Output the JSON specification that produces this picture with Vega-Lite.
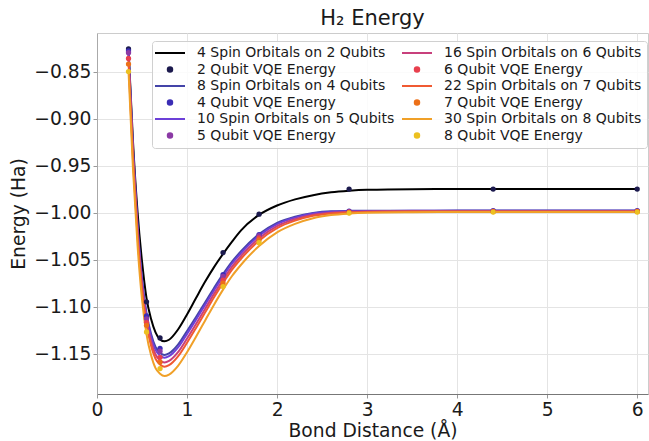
{
 "$schema": "https://vega.github.io/schema/vega-lite/v6.json",
 "width": 551, "height": 361,
 "autosize": {"type": "none"},
 "padding": {"left": 97, "top": 33, "right": 1, "bottom": 47},
 "background": "white",
 "title": {"text": "H₂ Energy", "font": "DejaVu Sans", "fontSize": 21, "fontWeight": "normal", "color": "#1a1a1a", "offset": 4, "anchor": "middle", "frame": "group"},
 "config": {
  "view": {"stroke": "#cccccc", "strokeWidth": 1},
  "axis": {"labelFont": "DejaVu Sans", "labelFontSize": 18.7, "labelColor": "#1a1a1a", "titleFont": "DejaVu Sans", "titleFontSize": 18.7, "titleFontWeight": "normal", "titleColor": "#1a1a1a", "gridColor": "#e4e4e4", "gridWidth": 1, "domainColor": "#999999", "tickColor": "#999999", "tickSize": 4, "labelPadding": 2, "labelFlush": false}
 },
 "datasets": {
  "lines": [
   {"series": "4 Spin Orbitals on 2 Qubits", "x": 0.35, "E": -0.826},
   {"series": "4 Spin Orbitals on 2 Qubits", "x": 0.4, "E": -0.925},
   {"series": "4 Spin Orbitals on 2 Qubits", "x": 0.45, "E": -0.999},
   {"series": "4 Spin Orbitals on 2 Qubits", "x": 0.5, "E": -1.052},
   {"series": "4 Spin Orbitals on 2 Qubits", "x": 0.55, "E": -1.091},
   {"series": "4 Spin Orbitals on 2 Qubits", "x": 0.6, "E": -1.113},
   {"series": "4 Spin Orbitals on 2 Qubits", "x": 0.65, "E": -1.1274},
   {"series": "4 Spin Orbitals on 2 Qubits", "x": 0.7, "E": -1.1349},
   {"series": "4 Spin Orbitals on 2 Qubits", "x": 0.75, "E": -1.137},
   {"series": "4 Spin Orbitals on 2 Qubits", "x": 0.8, "E": -1.1353},
   {"series": "4 Spin Orbitals on 2 Qubits", "x": 0.9, "E": -1.1244},
   {"series": "4 Spin Orbitals on 2 Qubits", "x": 1.0, "E": -1.1084},
   {"series": "4 Spin Orbitals on 2 Qubits", "x": 1.1, "E": -1.0909},
   {"series": "4 Spin Orbitals on 2 Qubits", "x": 1.2, "E": -1.0737},
   {"series": "4 Spin Orbitals on 2 Qubits", "x": 1.3, "E": -1.058},
   {"series": "4 Spin Orbitals on 2 Qubits", "x": 1.4, "E": -1.044},
   {"series": "4 Spin Orbitals on 2 Qubits", "x": 1.5, "E": -1.031},
   {"series": "4 Spin Orbitals on 2 Qubits", "x": 1.6, "E": -1.019},
   {"series": "4 Spin Orbitals on 2 Qubits", "x": 1.8, "E": -1.0025},
   {"series": "4 Spin Orbitals on 2 Qubits", "x": 2.0, "E": -0.9925},
   {"series": "4 Spin Orbitals on 2 Qubits", "x": 2.2, "E": -0.986},
   {"series": "4 Spin Orbitals on 2 Qubits", "x": 2.4, "E": -0.9815},
   {"series": "4 Spin Orbitals on 2 Qubits", "x": 2.6, "E": -0.9785},
   {"series": "4 Spin Orbitals on 2 Qubits", "x": 2.8, "E": -0.9768},
   {"series": "4 Spin Orbitals on 2 Qubits", "x": 3.0, "E": -0.9758},
   {"series": "4 Spin Orbitals on 2 Qubits", "x": 3.5, "E": -0.9751},
   {"series": "4 Spin Orbitals on 2 Qubits", "x": 4.0, "E": -0.975},
   {"series": "4 Spin Orbitals on 2 Qubits", "x": 5.0, "E": -0.975},
   {"series": "4 Spin Orbitals on 2 Qubits", "x": 6.0, "E": -0.975},

   {"series": "8 Spin Orbitals on 4 Qubits", "x": 0.35, "E": -0.827},
   {"series": "8 Spin Orbitals on 4 Qubits", "x": 0.4, "E": -0.932},
   {"series": "8 Spin Orbitals on 4 Qubits", "x": 0.45, "E": -1.012},
   {"series": "8 Spin Orbitals on 4 Qubits", "x": 0.5, "E": -1.070},
   {"series": "8 Spin Orbitals on 4 Qubits", "x": 0.55, "E": -1.107},
   {"series": "8 Spin Orbitals on 4 Qubits", "x": 0.6, "E": -1.129},
   {"series": "8 Spin Orbitals on 4 Qubits", "x": 0.65, "E": -1.143},
   {"series": "8 Spin Orbitals on 4 Qubits", "x": 0.7, "E": -1.149},
   {"series": "8 Spin Orbitals on 4 Qubits", "x": 0.75, "E": -1.1514},
   {"series": "8 Spin Orbitals on 4 Qubits", "x": 0.8, "E": -1.1498},
   {"series": "8 Spin Orbitals on 4 Qubits", "x": 0.9, "E": -1.1405},
   {"series": "8 Spin Orbitals on 4 Qubits", "x": 1.0, "E": -1.126},
   {"series": "8 Spin Orbitals on 4 Qubits", "x": 1.1, "E": -1.1111},
   {"series": "8 Spin Orbitals on 4 Qubits", "x": 1.2, "E": -1.0956},
   {"series": "8 Spin Orbitals on 4 Qubits", "x": 1.3, "E": -1.0802},
   {"series": "8 Spin Orbitals on 4 Qubits", "x": 1.4, "E": -1.0655},
   {"series": "8 Spin Orbitals on 4 Qubits", "x": 1.5, "E": -1.0522},
   {"series": "8 Spin Orbitals on 4 Qubits", "x": 1.6, "E": -1.0411},
   {"series": "8 Spin Orbitals on 4 Qubits", "x": 1.8, "E": -1.0229},
   {"series": "8 Spin Orbitals on 4 Qubits", "x": 2.0, "E": -1.0109},
   {"series": "8 Spin Orbitals on 4 Qubits", "x": 2.2, "E": -1.0043},
   {"series": "8 Spin Orbitals on 4 Qubits", "x": 2.4, "E": -1.0004},
   {"series": "8 Spin Orbitals on 4 Qubits", "x": 2.6, "E": -0.9986},
   {"series": "8 Spin Orbitals on 4 Qubits", "x": 2.8, "E": -0.9982},
   {"series": "8 Spin Orbitals on 4 Qubits", "x": 3.0, "E": -0.998},
   {"series": "8 Spin Orbitals on 4 Qubits", "x": 3.5, "E": -0.998},
   {"series": "8 Spin Orbitals on 4 Qubits", "x": 4.0, "E": -0.9979},
   {"series": "8 Spin Orbitals on 4 Qubits", "x": 5.0, "E": -0.9979},
   {"series": "8 Spin Orbitals on 4 Qubits", "x": 6.0, "E": -0.9979},

   {"series": "10 Spin Orbitals on 5 Qubits", "x": 0.35, "E": -0.830},
   {"series": "10 Spin Orbitals on 5 Qubits", "x": 0.4, "E": -0.935},
   {"series": "10 Spin Orbitals on 5 Qubits", "x": 0.45, "E": -1.015},
   {"series": "10 Spin Orbitals on 5 Qubits", "x": 0.5, "E": -1.073},
   {"series": "10 Spin Orbitals on 5 Qubits", "x": 0.55, "E": -1.110},
   {"series": "10 Spin Orbitals on 5 Qubits", "x": 0.6, "E": -1.132},
   {"series": "10 Spin Orbitals on 5 Qubits", "x": 0.65, "E": -1.146},
   {"series": "10 Spin Orbitals on 5 Qubits", "x": 0.7, "E": -1.152},
   {"series": "10 Spin Orbitals on 5 Qubits", "x": 0.75, "E": -1.1544},
   {"series": "10 Spin Orbitals on 5 Qubits", "x": 0.8, "E": -1.1528},
   {"series": "10 Spin Orbitals on 5 Qubits", "x": 0.9, "E": -1.1435},
   {"series": "10 Spin Orbitals on 5 Qubits", "x": 1.0, "E": -1.129},
   {"series": "10 Spin Orbitals on 5 Qubits", "x": 1.1, "E": -1.1139},
   {"series": "10 Spin Orbitals on 5 Qubits", "x": 1.2, "E": -1.0982},
   {"series": "10 Spin Orbitals on 5 Qubits", "x": 1.3, "E": -1.0826},
   {"series": "10 Spin Orbitals on 5 Qubits", "x": 1.4, "E": -1.068},
   {"series": "10 Spin Orbitals on 5 Qubits", "x": 1.5, "E": -1.0542},
   {"series": "10 Spin Orbitals on 5 Qubits", "x": 1.6, "E": -1.043},
   {"series": "10 Spin Orbitals on 5 Qubits", "x": 1.8, "E": -1.0246},
   {"series": "10 Spin Orbitals on 5 Qubits", "x": 2.0, "E": -1.0122},
   {"series": "10 Spin Orbitals on 5 Qubits", "x": 2.2, "E": -1.0054},
   {"series": "10 Spin Orbitals on 5 Qubits", "x": 2.4, "E": -1.0011},
   {"series": "10 Spin Orbitals on 5 Qubits", "x": 2.6, "E": -0.9992},
   {"series": "10 Spin Orbitals on 5 Qubits", "x": 2.8, "E": -0.9986},
   {"series": "10 Spin Orbitals on 5 Qubits", "x": 3.0, "E": -0.9983},
   {"series": "10 Spin Orbitals on 5 Qubits", "x": 3.5, "E": -0.9982},
   {"series": "10 Spin Orbitals on 5 Qubits", "x": 4.0, "E": -0.9981},
   {"series": "10 Spin Orbitals on 5 Qubits", "x": 5.0, "E": -0.9981},
   {"series": "10 Spin Orbitals on 5 Qubits", "x": 6.0, "E": -0.9981},

   {"series": "16 Spin Orbitals on 6 Qubits", "x": 0.35, "E": -0.835},
   {"series": "16 Spin Orbitals on 6 Qubits", "x": 0.4, "E": -0.940},
   {"series": "16 Spin Orbitals on 6 Qubits", "x": 0.45, "E": -1.020},
   {"series": "16 Spin Orbitals on 6 Qubits", "x": 0.5, "E": -1.078},
   {"series": "16 Spin Orbitals on 6 Qubits", "x": 0.55, "E": -1.115},
   {"series": "16 Spin Orbitals on 6 Qubits", "x": 0.6, "E": -1.137},
   {"series": "16 Spin Orbitals on 6 Qubits", "x": 0.65, "E": -1.151},
   {"series": "16 Spin Orbitals on 6 Qubits", "x": 0.7, "E": -1.157},
   {"series": "16 Spin Orbitals on 6 Qubits", "x": 0.75, "E": -1.1594},
   {"series": "16 Spin Orbitals on 6 Qubits", "x": 0.8, "E": -1.1578},
   {"series": "16 Spin Orbitals on 6 Qubits", "x": 0.9, "E": -1.1485},
   {"series": "16 Spin Orbitals on 6 Qubits", "x": 1.0, "E": -1.134},
   {"series": "16 Spin Orbitals on 6 Qubits", "x": 1.1, "E": -1.1185},
   {"series": "16 Spin Orbitals on 6 Qubits", "x": 1.2, "E": -1.1025},
   {"series": "16 Spin Orbitals on 6 Qubits", "x": 1.3, "E": -1.0865},
   {"series": "16 Spin Orbitals on 6 Qubits", "x": 1.4, "E": -1.0716},
   {"series": "16 Spin Orbitals on 6 Qubits", "x": 1.5, "E": -1.0576},
   {"series": "16 Spin Orbitals on 6 Qubits", "x": 1.6, "E": -1.0462},
   {"series": "16 Spin Orbitals on 6 Qubits", "x": 1.8, "E": -1.0274},
   {"series": "16 Spin Orbitals on 6 Qubits", "x": 2.0, "E": -1.0145},
   {"series": "16 Spin Orbitals on 6 Qubits", "x": 2.2, "E": -1.0071},
   {"series": "16 Spin Orbitals on 6 Qubits", "x": 2.4, "E": -1.0024},
   {"series": "16 Spin Orbitals on 6 Qubits", "x": 2.6, "E": -1.0001},
   {"series": "16 Spin Orbitals on 6 Qubits", "x": 2.8, "E": -0.9992},
   {"series": "16 Spin Orbitals on 6 Qubits", "x": 3.0, "E": -0.9988},
   {"series": "16 Spin Orbitals on 6 Qubits", "x": 3.5, "E": -0.9986},
   {"series": "16 Spin Orbitals on 6 Qubits", "x": 4.0, "E": -0.9985},
   {"series": "16 Spin Orbitals on 6 Qubits", "x": 5.0, "E": -0.9985},
   {"series": "16 Spin Orbitals on 6 Qubits", "x": 6.0, "E": -0.9985},

   {"series": "22 Spin Orbitals on 7 Qubits", "x": 0.35, "E": -0.8395},
   {"series": "22 Spin Orbitals on 7 Qubits", "x": 0.4, "E": -0.9445},
   {"series": "22 Spin Orbitals on 7 Qubits", "x": 0.45, "E": -1.0245},
   {"series": "22 Spin Orbitals on 7 Qubits", "x": 0.5, "E": -1.0825},
   {"series": "22 Spin Orbitals on 7 Qubits", "x": 0.55, "E": -1.1195},
   {"series": "22 Spin Orbitals on 7 Qubits", "x": 0.6, "E": -1.1415},
   {"series": "22 Spin Orbitals on 7 Qubits", "x": 0.65, "E": -1.1555},
   {"series": "22 Spin Orbitals on 7 Qubits", "x": 0.7, "E": -1.1615},
   {"series": "22 Spin Orbitals on 7 Qubits", "x": 0.75, "E": -1.1639},
   {"series": "22 Spin Orbitals on 7 Qubits", "x": 0.8, "E": -1.1623},
   {"series": "22 Spin Orbitals on 7 Qubits", "x": 0.9, "E": -1.153},
   {"series": "22 Spin Orbitals on 7 Qubits", "x": 1.0, "E": -1.1385},
   {"series": "22 Spin Orbitals on 7 Qubits", "x": 1.1, "E": -1.1227},
   {"series": "22 Spin Orbitals on 7 Qubits", "x": 1.2, "E": -1.1064},
   {"series": "22 Spin Orbitals on 7 Qubits", "x": 1.3, "E": -1.0901},
   {"series": "22 Spin Orbitals on 7 Qubits", "x": 1.4, "E": -1.0748},
   {"series": "22 Spin Orbitals on 7 Qubits", "x": 1.5, "E": -1.0607},
   {"series": "22 Spin Orbitals on 7 Qubits", "x": 1.6, "E": -1.0491},
   {"series": "22 Spin Orbitals on 7 Qubits", "x": 1.8, "E": -1.0299},
   {"series": "22 Spin Orbitals on 7 Qubits", "x": 2.0, "E": -1.0165},
   {"series": "22 Spin Orbitals on 7 Qubits", "x": 2.2, "E": -1.0086},
   {"series": "22 Spin Orbitals on 7 Qubits", "x": 2.4, "E": -1.0035},
   {"series": "22 Spin Orbitals on 7 Qubits", "x": 2.6, "E": -1.0009},
   {"series": "22 Spin Orbitals on 7 Qubits", "x": 2.8, "E": -0.9998},
   {"series": "22 Spin Orbitals on 7 Qubits", "x": 3.0, "E": -0.9993},
   {"series": "22 Spin Orbitals on 7 Qubits", "x": 3.5, "E": -0.9989},
   {"series": "22 Spin Orbitals on 7 Qubits", "x": 4.0, "E": -0.9988},
   {"series": "22 Spin Orbitals on 7 Qubits", "x": 5.0, "E": -0.9988},
   {"series": "22 Spin Orbitals on 7 Qubits", "x": 6.0, "E": -0.9988},

   {"series": "30 Spin Orbitals on 8 Qubits", "x": 0.35, "E": -0.8495},
   {"series": "30 Spin Orbitals on 8 Qubits", "x": 0.4, "E": -0.9545},
   {"series": "30 Spin Orbitals on 8 Qubits", "x": 0.45, "E": -1.0345},
   {"series": "30 Spin Orbitals on 8 Qubits", "x": 0.5, "E": -1.0925},
   {"series": "30 Spin Orbitals on 8 Qubits", "x": 0.55, "E": -1.1295},
   {"series": "30 Spin Orbitals on 8 Qubits", "x": 0.6, "E": -1.1515},
   {"series": "30 Spin Orbitals on 8 Qubits", "x": 0.65, "E": -1.1655},
   {"series": "30 Spin Orbitals on 8 Qubits", "x": 0.7, "E": -1.1715},
   {"series": "30 Spin Orbitals on 8 Qubits", "x": 0.75, "E": -1.1739},
   {"series": "30 Spin Orbitals on 8 Qubits", "x": 0.8, "E": -1.1723},
   {"series": "30 Spin Orbitals on 8 Qubits", "x": 0.9, "E": -1.163},
   {"series": "30 Spin Orbitals on 8 Qubits", "x": 1.0, "E": -1.1485},
   {"series": "30 Spin Orbitals on 8 Qubits", "x": 1.1, "E": -1.132},
   {"series": "30 Spin Orbitals on 8 Qubits", "x": 1.2, "E": -1.115},
   {"series": "30 Spin Orbitals on 8 Qubits", "x": 1.3, "E": -1.098},
   {"series": "30 Spin Orbitals on 8 Qubits", "x": 1.4, "E": -1.082},
   {"series": "30 Spin Orbitals on 8 Qubits", "x": 1.5, "E": -1.0675},
   {"series": "30 Spin Orbitals on 8 Qubits", "x": 1.6, "E": -1.0555},
   {"series": "30 Spin Orbitals on 8 Qubits", "x": 1.8, "E": -1.0355},
   {"series": "30 Spin Orbitals on 8 Qubits", "x": 2.0, "E": -1.021},
   {"series": "30 Spin Orbitals on 8 Qubits", "x": 2.2, "E": -1.012},
   {"series": "30 Spin Orbitals on 8 Qubits", "x": 2.4, "E": -1.006},
   {"series": "30 Spin Orbitals on 8 Qubits", "x": 2.6, "E": -1.0027},
   {"series": "30 Spin Orbitals on 8 Qubits", "x": 2.8, "E": -1.0011},
   {"series": "30 Spin Orbitals on 8 Qubits", "x": 3.0, "E": -1.0003},
   {"series": "30 Spin Orbitals on 8 Qubits", "x": 3.5, "E": -0.9997},
   {"series": "30 Spin Orbitals on 8 Qubits", "x": 4.0, "E": -0.9995},
   {"series": "30 Spin Orbitals on 8 Qubits", "x": 5.0, "E": -0.9995},
   {"series": "30 Spin Orbitals on 8 Qubits", "x": 6.0, "E": -0.9995}
  ],
  "points": [
   {"series": "2 Qubit VQE Energy", "x": 0.35, "E": -0.826},
   {"series": "2 Qubit VQE Energy", "x": 0.55, "E": -1.095},
   {"series": "2 Qubit VQE Energy", "x": 0.7, "E": -1.1334},
   {"series": "2 Qubit VQE Energy", "x": 1.4, "E": -1.0426},
   {"series": "2 Qubit VQE Energy", "x": 1.8, "E": -1.0017},
   {"series": "2 Qubit VQE Energy", "x": 2.8, "E": -0.975},
   {"series": "2 Qubit VQE Energy", "x": 4.4, "E": -0.975},
   {"series": "2 Qubit VQE Energy", "x": 6.0, "E": -0.975},
   {"series": "4 Qubit VQE Energy", "x": 0.35, "E": -0.828},
   {"series": "4 Qubit VQE Energy", "x": 0.55, "E": -1.110},
   {"series": "4 Qubit VQE Energy", "x": 0.7, "E": -1.1444},
   {"series": "4 Qubit VQE Energy", "x": 1.4, "E": -1.066},
   {"series": "4 Qubit VQE Energy", "x": 1.8, "E": -1.0235},
   {"series": "4 Qubit VQE Energy", "x": 2.8, "E": -0.9985},
   {"series": "4 Qubit VQE Energy", "x": 4.4, "E": -0.998},
   {"series": "4 Qubit VQE Energy", "x": 6.0, "E": -0.998},
   {"series": "5 Qubit VQE Energy", "x": 0.35, "E": -0.830},
   {"series": "5 Qubit VQE Energy", "x": 0.55, "E": -1.113},
   {"series": "5 Qubit VQE Energy", "x": 0.7, "E": -1.1475},
   {"series": "5 Qubit VQE Energy", "x": 1.4, "E": -1.068},
   {"series": "5 Qubit VQE Energy", "x": 1.8, "E": -1.0245},
   {"series": "5 Qubit VQE Energy", "x": 2.8, "E": -0.999},
   {"series": "5 Qubit VQE Energy", "x": 4.4, "E": -0.9985},
   {"series": "5 Qubit VQE Energy", "x": 6.0, "E": -0.9985},
   {"series": "6 Qubit VQE Energy", "x": 0.35, "E": -0.836},
   {"series": "6 Qubit VQE Energy", "x": 0.55, "E": -1.117},
   {"series": "6 Qubit VQE Energy", "x": 0.7, "E": -1.154},
   {"series": "6 Qubit VQE Energy", "x": 1.4, "E": -1.072},
   {"series": "6 Qubit VQE Energy", "x": 1.8, "E": -1.027},
   {"series": "6 Qubit VQE Energy", "x": 2.8, "E": -0.9995},
   {"series": "6 Qubit VQE Energy", "x": 4.4, "E": -0.9988},
   {"series": "6 Qubit VQE Energy", "x": 6.0, "E": -0.9988},
   {"series": "7 Qubit VQE Energy", "x": 0.35, "E": -0.842},
   {"series": "7 Qubit VQE Energy", "x": 0.55, "E": -1.120},
   {"series": "7 Qubit VQE Energy", "x": 0.7, "E": -1.159},
   {"series": "7 Qubit VQE Energy", "x": 1.4, "E": -1.075},
   {"series": "7 Qubit VQE Energy", "x": 1.8, "E": -1.029},
   {"series": "7 Qubit VQE Energy", "x": 2.8, "E": -1.0},
   {"series": "7 Qubit VQE Energy", "x": 4.4, "E": -0.999},
   {"series": "7 Qubit VQE Energy", "x": 6.0, "E": -0.999},
   {"series": "8 Qubit VQE Energy", "x": 0.35, "E": -0.850},
   {"series": "8 Qubit VQE Energy", "x": 0.55, "E": -1.127},
   {"series": "8 Qubit VQE Energy", "x": 0.7, "E": -1.166},
   {"series": "8 Qubit VQE Energy", "x": 1.4, "E": -1.0787},
   {"series": "8 Qubit VQE Energy", "x": 1.8, "E": -1.032},
   {"series": "8 Qubit VQE Energy", "x": 2.8, "E": -1.0005},
   {"series": "8 Qubit VQE Energy", "x": 4.4, "E": -0.9995},
   {"series": "8 Qubit VQE Energy", "x": 6.0, "E": -0.9995}
  ]
 },
 "encoding": {
  "x": {"field": "x", "type": "quantitative", "title": "Bond Distance (Å)",
        "scale": {"domain": [0, 6.12], "nice": false, "zero": false},
        "axis": {"values": [0, 1, 2, 3, 4, 5, 6], "format": "d", "titlePadding": 3, "domainColor": "#777777"}},
  "y": {"field": "E", "type": "quantitative", "title": "Energy (Ha)",
        "scale": {"domain": [-1.193, -0.809], "nice": false, "zero": false},
        "axis": {"values": [-0.85, -0.9, -0.95, -1.0, -1.05, -1.1, -1.15], "format": ".2f", "titlePadding": 5, "domainColor": "#aaaaaa"}},
  "color": {"field": "series", "type": "nominal",
   "scale": {
    "domain": ["4 Spin Orbitals on 2 Qubits", "2 Qubit VQE Energy", "8 Spin Orbitals on 4 Qubits", "4 Qubit VQE Energy", "10 Spin Orbitals on 5 Qubits", "5 Qubit VQE Energy", "16 Spin Orbitals on 6 Qubits", "6 Qubit VQE Energy", "22 Spin Orbitals on 7 Qubits", "7 Qubit VQE Energy", "30 Spin Orbitals on 8 Qubits", "8 Qubit VQE Energy"],
    "range": ["#000000", "#1c1a4e", "#4444a8", "#3b2db5", "#6c40d8", "#8b3aa5", "#c8407c", "#e8404e", "#f05a32", "#ec7018", "#f0a028", "#ecc020"]
   },
   "legend": {
    "title": null, "orient": "none", "legendX": 55, "legendY": 8, "columns": 2,
    "labelFont": "DejaVu Sans", "labelFontSize": 14, "labelColor": "#1a1a1a", "labelLimit": 400,
    "symbolSize": 20, "symbolStrokeWidth": 2, "symbolOffset": 6, "labelOffset": 20,
    "rowPadding": 2.5, "columnPadding": 3, "padding": 5,
    "fillColor": "rgba(255,255,255,0.85)", "strokeColor": "#d0d0d0", "cornerRadius": 3
   }
  }
 },
 "layer": [
  {"data": {"name": "lines"}, "mark": {"type": "line", "interpolate": "monotone", "strokeWidth": 2, "clip": true}},
  {"data": {"name": "points"}, "mark": {"type": "point", "filled": true, "size": 28, "opacity": 1, "clip": true},
   "encoding": {
    "shape": {"field": "series", "type": "nominal", "legend": {"title": null},
     "scale": {"domain": ["4 Spin Orbitals on 2 Qubits", "2 Qubit VQE Energy", "8 Spin Orbitals on 4 Qubits", "4 Qubit VQE Energy", "10 Spin Orbitals on 5 Qubits", "5 Qubit VQE Energy", "16 Spin Orbitals on 6 Qubits", "6 Qubit VQE Energy", "22 Spin Orbitals on 7 Qubits", "7 Qubit VQE Energy", "30 Spin Orbitals on 8 Qubits", "8 Qubit VQE Energy"],
      "range": ["M-6.7,0H6.7", "circle", "M-6.7,0H6.7", "circle", "M-6.7,0H6.7", "circle", "M-6.7,0H6.7", "circle", "M-6.7,0H6.7", "circle", "M-6.7,0H6.7", "circle"]}}
   }}
 ]
}
